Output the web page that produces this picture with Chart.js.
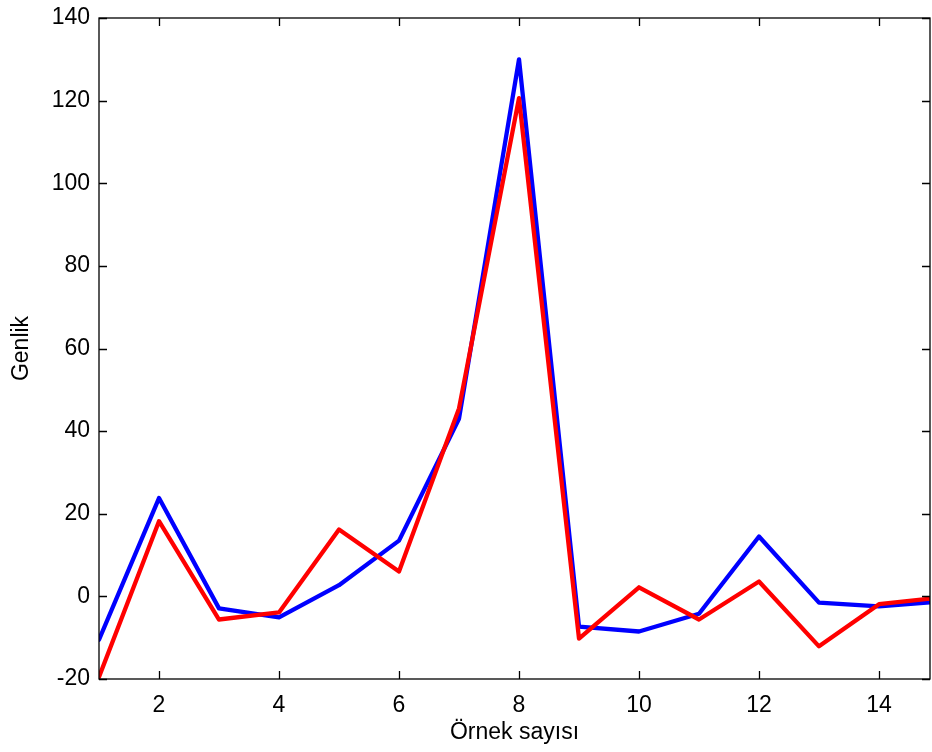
<!DOCTYPE html>
<html>
<head>
<meta charset="utf-8">
<script src="https://cdn.jsdelivr.net/npm/chart.js@4"></script>
<style>
  html, body { margin: 0; padding: 0; background: #fff; }
  #wrap { width: 932px; height: 752px; }
</style>
</head>
<body>
<div id="wrap"><canvas id="c"></canvas></div>
<script>
// Örnek sayısı (sample index) and the two amplitude series
const sampleIndex = [1, 2, 3, 4, 5, 6, 7, 8, 9, 10, 11, 12, 13, 14, 15];
const blueSeries  = [-10.5, 23.8, -2.9, -5.1, 2.7, 13.5, 43.0, 130.0, -7.3, -8.5, -4.2, 14.5, -1.5, -2.4, -1.3];
const redSeries   = [-19.5, 18.2, -5.6, -3.9, 16.2, 6.0, 45.5, 120.6, -10.2, 2.2, -5.6, 3.6, -12.1, -1.9, -0.3];
const xTicks = [2, 4, 6, 8, 10, 12, 14];
const yTicks = [-20, 0, 20, 40, 60, 80, 100, 120, 140];

const FONT = { family: "'Liberation Sans', Arial, sans-serif", size: 23 };

const toPoints = ys => sampleIndex.map((x, i) => ({ x, y: ys[i] }));

// MATLAB-style box with inward ticks on all four sides
const boxTicks = {
  id: 'boxTicks',
  afterDraw(chart) {
    const { ctx, chartArea: a, scales: { x, y } } = chart;
    const len = 8;
    ctx.save();
    ctx.strokeStyle = '#000';
    ctx.lineWidth = 1.3;
    ctx.strokeRect(a.left, a.top, a.right - a.left, a.bottom - a.top);
    ctx.beginPath();
    xTicks.forEach(v => {
      const px = Math.round(x.getPixelForValue(v)) + 0.5;
      ctx.moveTo(px, a.bottom); ctx.lineTo(px, a.bottom - len);
      ctx.moveTo(px, a.top);    ctx.lineTo(px, a.top + len);
    });
    yTicks.forEach(v => {
      const py = Math.round(y.getPixelForValue(v)) + 0.5;
      ctx.moveTo(a.left, py);  ctx.lineTo(a.left + len, py);
      ctx.moveTo(a.right, py); ctx.lineTo(a.right - len, py);
    });
    ctx.stroke();
    ctx.restore();
  }
};

const lineStyle = { borderWidth: 4.3, pointRadius: 0, tension: 0, borderJoinStyle: 'round', borderCapStyle: 'round' };

new Chart(document.getElementById('c'), {
  type: 'line',
  data: {
    datasets: [
      { ...lineStyle, data: toPoints(blueSeries), borderColor: '#0000FF', order: 1 },
      { ...lineStyle, data: toPoints(redSeries),  borderColor: '#FF0000', order: 0 }
    ]
  },
  options: {
    responsive: true,
    maintainAspectRatio: false,
    animation: false,
    layout: { padding: { top: 18, right: 2, left: 0, bottom: 0 } },
    plugins: { legend: { display: false }, tooltip: { enabled: false } },
    scales: {
      x: {
        type: 'linear',
        min: 1, max: 14.85,
        afterBuildTicks: s => { s.ticks = xTicks.map(v => ({ value: v })); },
        afterFit: s => { s.height = 73; s.paddingLeft = 0; s.paddingRight = 0; },
        grid: { display: false, drawTicks: false },
        border: { display: false },
        ticks: { font: FONT, color: '#000', padding: 13, maxRotation: 0 },
        title: { display: true, text: 'Örnek sayısı', font: FONT, color: '#000', padding: { top: 0, bottom: 6 } }
      },
      y: {
        min: -20, max: 140,
        afterBuildTicks: s => { s.ticks = yTicks.map(v => ({ value: v })); },
        afterFit: s => { s.width = 99; s.paddingTop = 0; s.paddingBottom = 0; },
        grid: { display: false, drawTicks: false },
        border: { display: false },
        ticks: { font: FONT, color: '#000', padding: 9 },
        title: { display: true, text: 'Genlik', font: FONT, color: '#000', padding: { top: 8, bottom: 0 } }
      }
    }
  },
  plugins: [boxTicks]
});
</script>
</body>
</html>
